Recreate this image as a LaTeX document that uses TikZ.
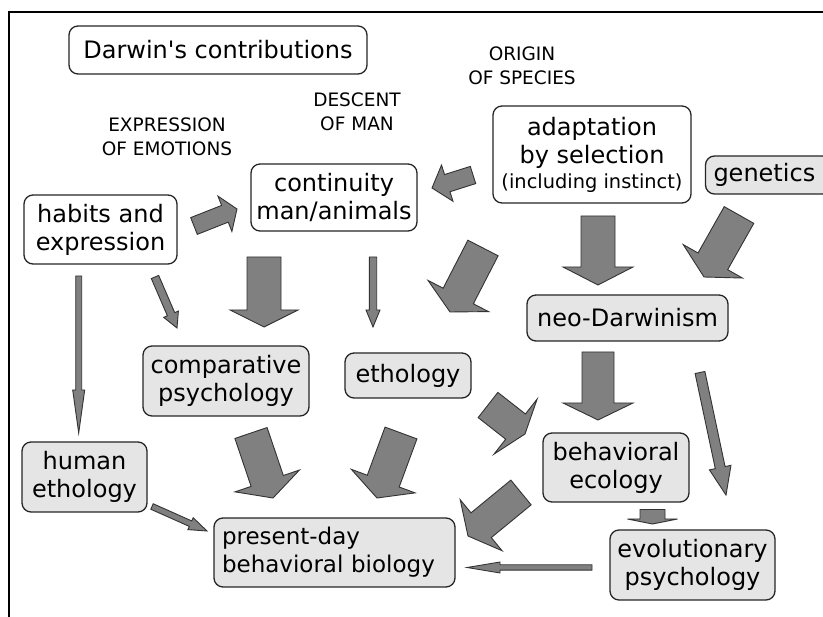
\documentclass[tikz,border=0pt]{standalone}
\usepackage{fontspec}
\setmainfont{DejaVu Sans}
\usetikzlibrary{calc}
\definecolor{boxgray}{gray}{0.9}
\definecolor{arrgray}{gray}{0.5}
\tikzset{
  box/.style={draw=black!85, line width=1.3pt, rounded corners=9pt, align=center,
    inner sep=0pt, font=\fontsize{24}{28}\selectfont},
  wbox/.style={box, fill=white},
  gbox/.style={box, fill=boxgray},
  booklabel/.style={align=center, inner sep=0pt, font=\fontsize{18.5}{24}\selectfont},
  blkarrow/.style={fill=arrgray, draw=black!80, line width=0.9pt, line join=miter},
  frameline/.style={line width=1.5pt, draw=black}
}
% block arrow: #1 start, #2 tip, #3 shaft half width, #4 head half width, #5 head length
\newcommand\barrowx[5]{%
  \draw[blkarrow] ($(#1)!#3!90:(#2)$)
    -- ($(#2)!#5!(#1)!#3!-90:(#1)$)
    -- ($(#2)!#5!(#1)!#4!-90:(#1)$)
    -- (#2)
    -- ($(#2)!#5!(#1)!#4!90:(#1)$)
    -- ($(#2)!#5!(#1)!#3!90:(#1)$)
    -- ($(#1)!#3!-90:(#2)$) -- cycle;}
\begin{document}
\begin{tikzpicture}[x=1pt,y=-1pt]
\useasboundingbox (0,0) rectangle (823,617);
\fill[white] (0,0) rectangle (823,617);
\draw[frameline] (9,617) -- (9,12) -- (823,12);

% nodes
\node[wbox, minimum width=298pt, minimum height=48pt] (darwin) at (218,50) {Darwin\textquotesingle s contributions};
\node[booklabel] (expr) at (167,137) {EXPRESSION\\OF EMOTIONS};
\node[booklabel] (descent) at (357,112) {DESCENT\\OF MAN};
\node[booklabel] (origin) at (522,66) {ORIGIN\\OF SPECIES};

\node[wbox, minimum width=153pt, minimum height=69pt] (habits) at (100.5,229.5) {habits and\\expression};
\node[wbox, minimum width=166pt, minimum height=67pt] (cont) at (334,197.5) {continuity\\man/animals};
\node[wbox, minimum width=198pt, minimum height=97pt] (adapt) at (592,154.5)
  {adaptation\\by selection\\[-3pt]{\fontsize{19.4}{24}\selectfont (including instinct)}};
\node[gbox, minimum width=125pt, minimum height=38pt, align=left, text width=110pt, inner xsep=8pt] (gen) at (768.5,175) {genetics};
\node[gbox, minimum width=201pt, minimum height=46pt] (neo) at (627.5,318) {neo-Darwinism};
\node[gbox, minimum width=166pt, minimum height=70pt] (comp) at (226,381) {comparative\\psychology};
\node[gbox, minimum width=126pt, minimum height=45pt] (etho) at (408,375.5) {ethology};
\node[gbox, minimum width=125pt, minimum height=70pt] (human) at (84.5,477) {human\\ethology};
\node[gbox, minimum width=241pt, minimum height=69pt, align=left, text width=225pt, inner xsep=8pt,
  font=\fontsize{23}{28}\selectfont] (present) at (334.5,552.5) {present-day\\behavioral biology};
\node[gbox, minimum width=146pt, minimum height=69pt] (behav) at (616,467.5) {behavioral\\ecology};
\node[gbox, minimum width=165pt, minimum height=70pt] (evo) at (692.5,565) {evolutionary\\psychology};

% arrow end points
\coordinate (a1s) at (194,226);   \coordinate (a1e) at (237,209);
\coordinate (a2s) at (473,175);   \coordinate (a2e) at (432,188);
\coordinate (a3s) at (155,277);   \coordinate (a3e) at (177,328);
\coordinate (a4s) at (264,257);   \coordinate (a4e) at (264,327);
\coordinate (a5s) at (373,257);   \coordinate (a5e) at (373,327);
\coordinate (a6s) at (483,248);   \coordinate (a6e) at (450,312);
\coordinate (a7s) at (598,216);   \coordinate (a7e) at (598,285);
\coordinate (a8s) at (739,215);   \coordinate (a8e) at (704,277);
\coordinate (a9s) at (78.7,276);  \coordinate (a9e) at (78.7,433);
\coordinate (a10s) at (251,433);  \coordinate (a10e) at (273,498);
\coordinate (a11s) at (401,433);  \coordinate (a11e) at (377,498);
\coordinate (a12s) at (488,405);  \coordinate (a12e) at (525,434);
\coordinate (a13s) at (598,352);  \coordinate (a13e) at (598,420);
\coordinate (a14s) at (700,372.5);\coordinate (a14e) at (726,495);
\coordinate (a15s) at (521,492.5);\coordinate (a15e) at (468,536);
\coordinate (a16s) at (652.5,509.5);\coordinate (a16e) at (652.5,524);
\coordinate (a17s) at (592,567.5);\coordinate (a17e) at (467,567.5);
\coordinate (a18s) at (152,506.5);\coordinate (a18e) at (207,531);

% block arrows
\barrowx{a1s}{a1e}{9pt}{19pt}{13pt}
\barrowx{a2s}{a2e}{9pt}{19pt}{16pt}
\barrowx{a3s}{a3e}{4pt}{8pt}{15pt}
\barrowx{a4s}{a4e}{17pt}{34pt}{17pt}
\barrowx{a5s}{a5e}{3.7pt}{7pt}{17pt}
\barrowx{a6s}{a6e}{17pt}{34pt}{18pt}
\barrowx{a7s}{a7e}{17pt}{35pt}{18pt}
\barrowx{a8s}{a8e}{17pt}{34pt}{18pt}
\barrowx{a9s}{a9e}{3pt}{6pt}{43pt}
\barrowx{a10s}{a10e}{17pt}{34pt}{18pt}
\barrowx{a11s}{a11e}{17pt}{34pt}{18pt}
\barrowx{a12s}{a12e}{16pt}{35pt}{12pt}
\barrowx{a13s}{a13e}{16pt}{35pt}{17pt}
\barrowx{a14s}{a14e}{5pt}{11pt}{28pt}
\barrowx{a15s}{a15e}{16pt}{33pt}{17pt}
\barrowx{a16s}{a16e}{12.5pt}{25pt}{5pt}
\barrowx{a17s}{a17e}{2.7pt}{5.5pt}{33pt}
\barrowx{a18s}{a18e}{3pt}{6.5pt}{18pt}
\end{tikzpicture}
\end{document}
